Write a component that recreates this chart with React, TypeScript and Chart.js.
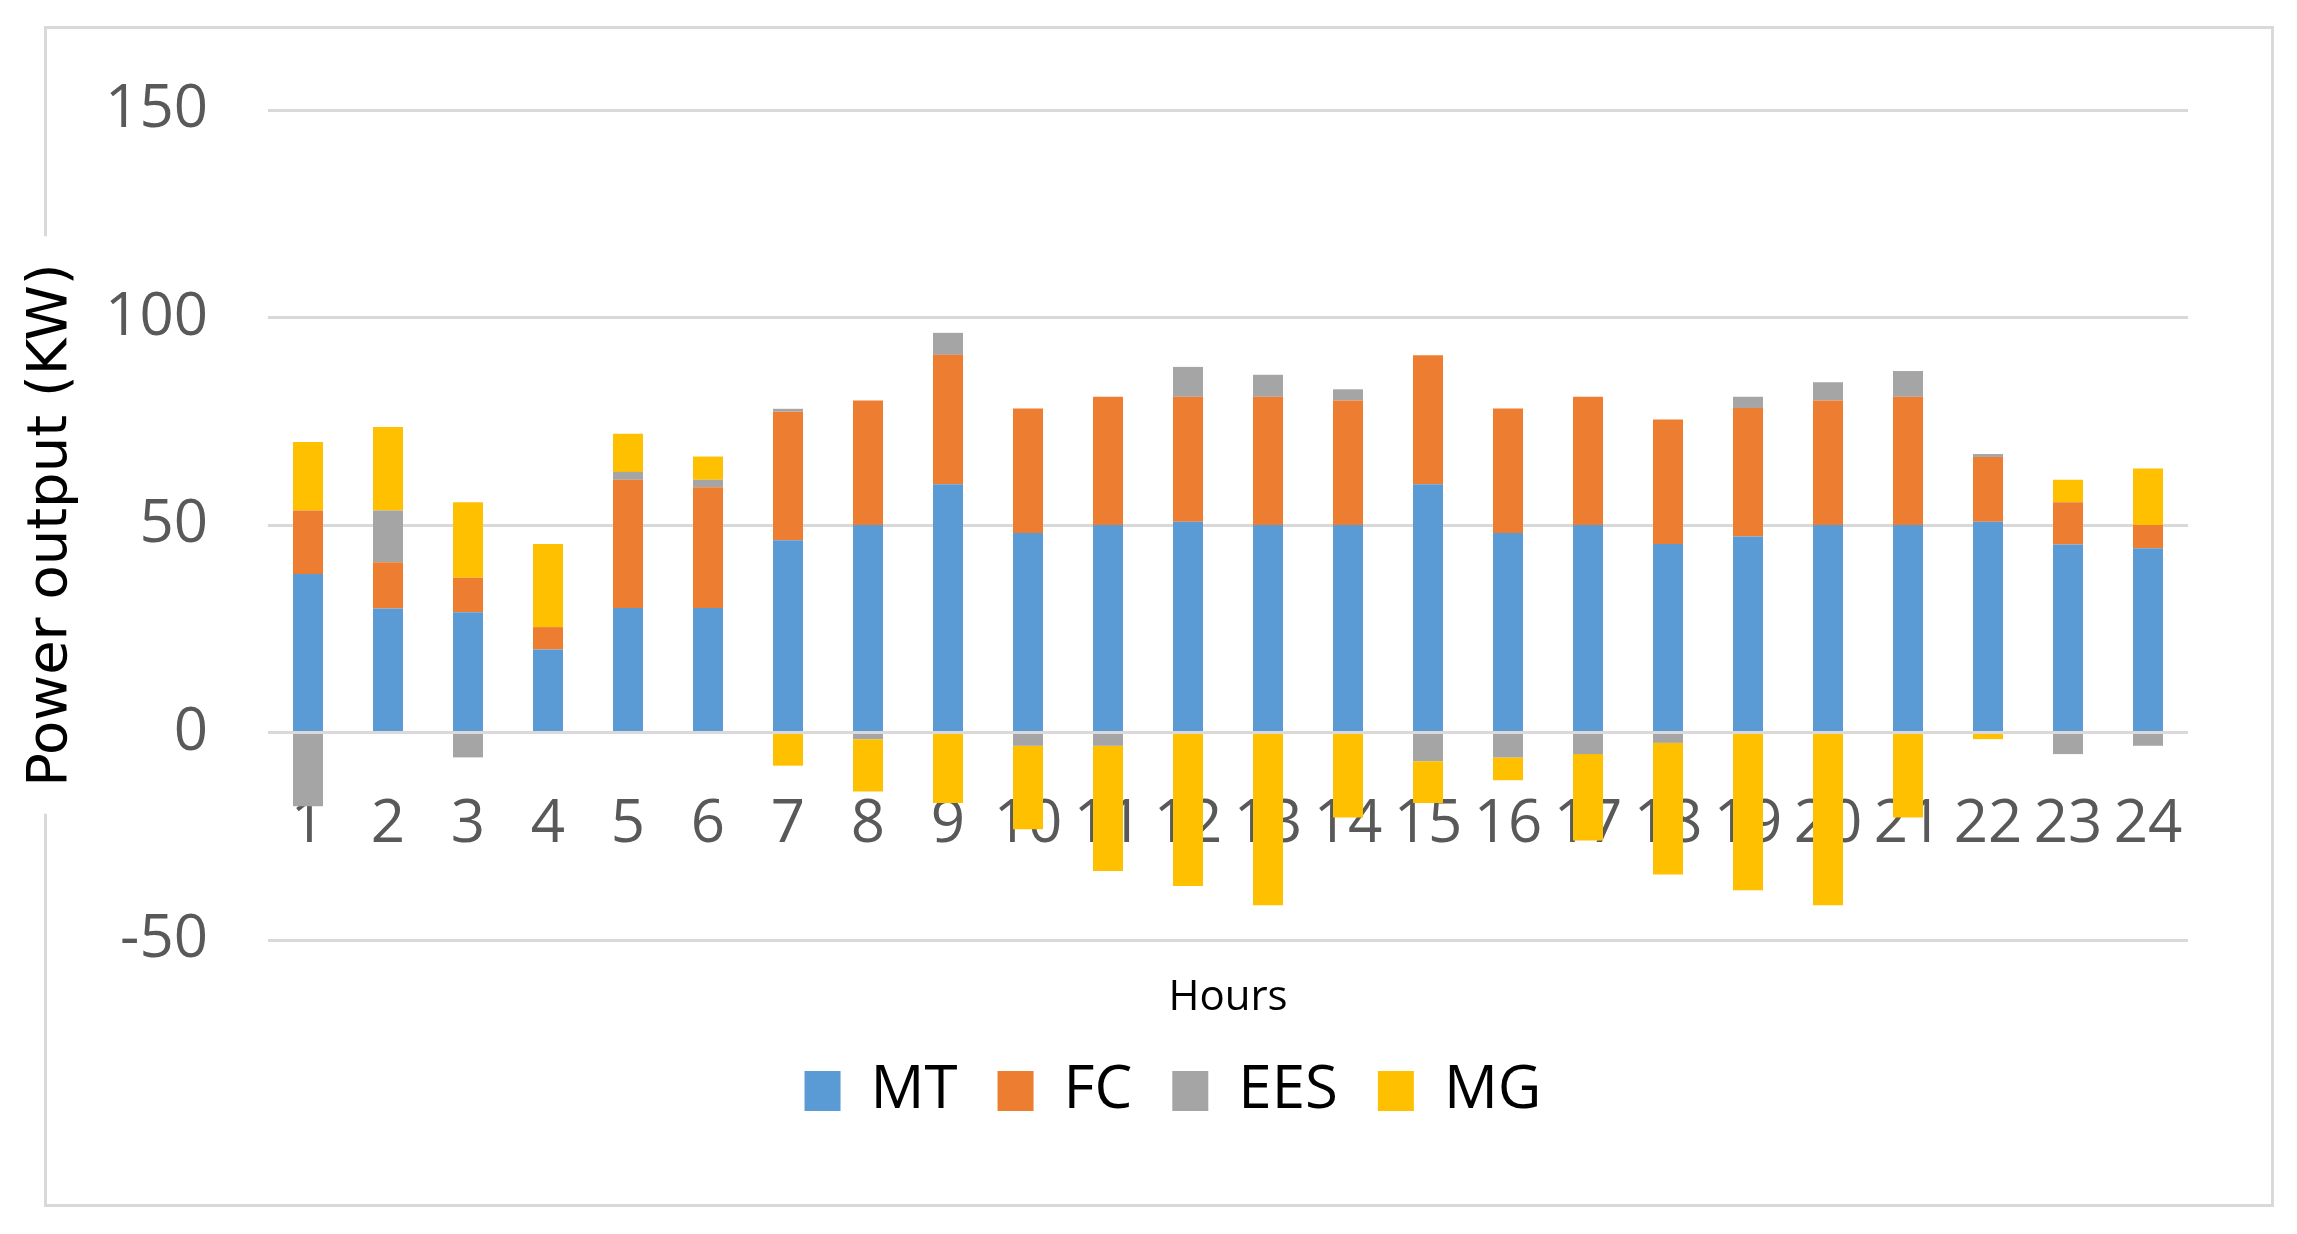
import React, { useEffect, useRef } from 'react';
import { Chart, registerables } from 'chart.js';

Chart.register(...registerables);

const hours = ['1', '2', '3', '4', '5', '6', '7', '8', '9', '10', '11', '12', '13', '14', '15', '16', '17', '18', '19', '20', '21', '22', '23', '24'];

const MT = [38.2, 29.9, 29.0, 20.0, 30.0, 30.0, 46.3, 50.0, 59.8, 48.1, 50.0, 50.8, 50.0, 50.0, 59.8, 48.1, 50.0, 45.4, 47.2, 50.0, 50.0, 50.8, 45.3, 44.4];
const FC = [15.3, 11.1, 8.3, 5.4, 30.9, 29.1, 31.0, 30.0, 31.2, 30.0, 30.9, 30.1, 30.9, 30.0, 31.1, 30.0, 30.9, 30.0, 31.0, 30.0, 30.9, 15.6, 10.2, 5.6];
const EES = [-17.8, 12.5, -6.0, 0, 1.9, 1.8, 0.7, -1.6, 5.3, -3.2, -3.2, 7.2, 5.3, 2.7, -6.9, -6.0, -5.2, -2.5, 2.7, 4.4, 6.2, 0.7, -5.2, -3.2];
const MG = [16.5, 20.1, 18.2, 20.0, 9.2, 5.6, -8.0, -12.6, -17.0, -20.1, -30.2, -37.0, -41.6, -20.5, -10.1, -5.5, -20.8, -31.7, -38.0, -41.6, -20.5, -1.6, 5.4, 13.6];

const seriesNames = ['MT', 'FC', 'EES', 'MG'];
const seriesColors = ['#5B9BD5', '#ED7D31', '#A5A5A5', '#FFC000'];

const yMin = -50;
const yMax = 150;
const yStep = 50;

const yTitle = 'Power output (KW)';
const xTitle = 'Hours';

export default function App() {
  const ref = useRef<HTMLCanvasElement | null>(null);

  useEffect(() => {
    document.body.style.margin = '0';
    const canvas = ref.current;
    if (!canvas) return;

    const framePlugin = {
      id: 'frame',
      beforeDraw(chart: any) {
        const ctx = chart.ctx;
        ctx.save();
        ctx.strokeStyle = '#d9d9d9';
        ctx.lineWidth = 3;
        ctx.strokeRect(45.5, 27.5, 2227, 1178);
        // gap behind the rotated y-axis title
        const ys = chart.scales.y;
        const cy = (ys.top + ys.bottom) / 2;
        ctx.font = '56px "DejaVu Sans"';
        const half = ctx.measureText(yTitle).width / 2 + 27;
        ctx.fillStyle = '#ffffff';
        ctx.fillRect(38, cy - half, 16, half * 2);
        ctx.restore();
      },
    };

    const allSeries = [MT, FC, EES, MG];
    const chart = new Chart(canvas, {
      type: 'bar',
      data: {
        labels: hours,
        datasets: allSeries.map((d, i) => ({
          label: seriesNames[i],
          data: d,
          backgroundColor: seriesColors[i],
          borderWidth: 0,
          barPercentage: 0.5,
          categoryPercentage: 0.75,
          xAxisID: 'x',
          yAxisID: 'y',
        })),
      },
      options: {
        animation: false,
        responsive: true,
        maintainAspectRatio: false,
        devicePixelRatio: 1,
        layout: { padding: { left: 100, right: 51, top: 110, bottom: 103 } },
        plugins: {
          tooltip: { enabled: false },
          legend: {
            position: 'bottom',
            labels: {
              boxWidth: 36,
              boxHeight: 40,
              color: '#000000',
              font: { family: '"Open Sans"', size: 60 },
              padding: 40,
            },
          },
        },
        scales: {
          y: {
            stacked: true,
            min: yMin,
            max: yMax,
            ticks: {
              stepSize: yStep,
              color: '#595959',
              font: { family: '"Open Sans"', size: 60 },
              padding: 60,
            },
            grid: { color: '#d9d9d9', lineWidth: 3, drawTicks: false },
            border: { display: false },
            title: {
              display: true,
              text: yTitle,
              color: '#000000',
              font: { family: '"DejaVu Sans"', size: 56 },
              padding: { top: -82, bottom: 0 },
            },
            afterFit: (s: any) => {
              s.width = 168;
            },
          },
          yR: {
            position: 'right',
            display: true,
            grid: { display: false, drawTicks: false },
            border: { display: false },
            ticks: { display: false },
            afterFit: (s: any) => {
              s.width = 58;
            },
          },
          x: {
            stacked: true,
            position: { y: 0 } as any,
            z: 1,
            grid: { display: false, drawTicks: false },
            border: { display: false },
            ticks: {
              color: '#595959',
              font: { family: '"Open Sans"', size: 60 },
              padding: 56,
              maxRotation: 0,
              minRotation: 0,
              autoSkip: false,
            },
          },
          x2: {
            type: 'category',
            position: 'bottom',
            grid: { display: false, drawTicks: false },
            border: { display: false },
            ticks: { display: false },
            title: {
              display: true,
              text: xTitle,
              color: '#000000',
              font: { family: '"Open Sans"', size: 42, lineHeight: 1 },
              padding: { top: 37, bottom: 2 },
            },
          },
        },
      } as any,
      plugins: [framePlugin],
    });

    return () => chart.destroy();
  }, []);

  return (
    <div style={{ width: 2297, height: 1234, position: 'relative', background: '#ffffff' }}>
      <canvas ref={ref} />
    </div>
  );
}
